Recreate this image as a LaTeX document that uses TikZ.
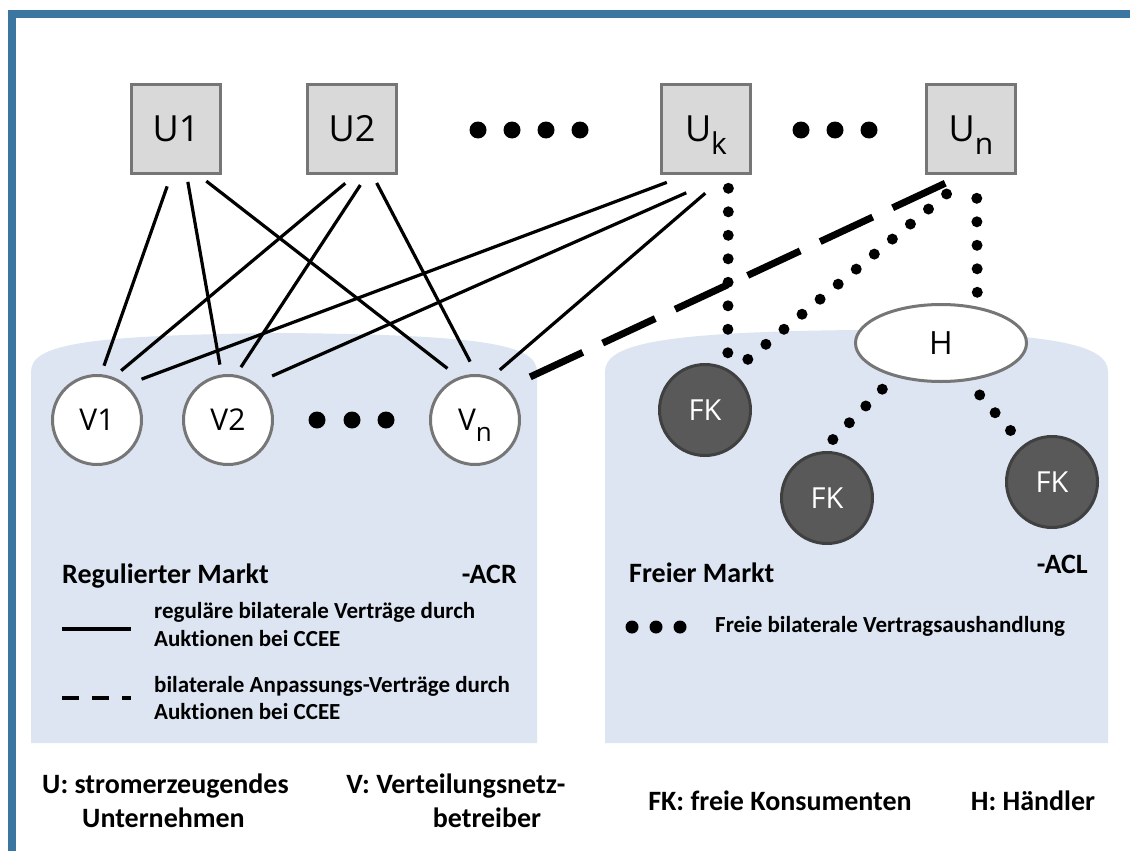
\documentclass[tikz,border=0pt]{standalone}
\usepackage{fontspec}
\setmainfont[Ligatures=NoCommon]{Carlito}
\newfontfamily\lab{Open Sans}
\usetikzlibrary{shapes.geometric}
\definecolor{frameblue}{RGB}{59,118,160}
\definecolor{areablue}{RGB}{220,229,241}
\definecolor{boxfill}{RGB}{217,217,217}
\definecolor{boxdraw}{RGB}{118,118,118}
\definecolor{fkfill}{RGB}{89,89,89}
\definecolor{fkdraw}{RGB}{64,64,64}
\begin{document}
\begin{tikzpicture}[x=1pt,y=-1pt,
  ubox/.style={draw=boxdraw, fill=boxfill, line width=3pt, minimum size=89pt, inner sep=0pt, font=\lab\fontsize{36}{36}\selectfont},
  vnode/.style={circle, draw=boxdraw, fill=white, line width=3pt, minimum size=89pt, inner sep=0pt, font=\lab\fontsize{30}{30}\selectfont},
  fknode/.style={circle, draw=fkdraw, fill=fkfill, line width=3pt, minimum size=91pt, inner sep=0pt, text=white, font=\lab\fontsize{29}{29}\selectfont},
  hnode/.style={ellipse, draw=boxdraw, fill=white, line width=3pt, minimum width=171pt, minimum height=77pt, inner sep=0pt, font=\lab\fontsize{32}{32}\selectfont},
  regular/.style={line width=3.2pt},
  adjust/.style={line width=7pt, dash pattern=on 58pt off 22pt},
  free/.style={line width=11pt, line cap=round, dash pattern=on 0pt off 23.5pt},
  title/.style={inner sep=0pt, font=\fontsize{28}{32}\selectfont\bfseries},
  legtext/.style={inner sep=0pt, anchor=base west, font=\fontsize{23}{27}\selectfont\bfseries},
  keytext/.style={inner sep=0pt, anchor=base, font=\fontsize{28}{32}\selectfont\bfseries},
  bigdot/.style={fill=black}
]
\useasboundingbox (0,0) rectangle (1130,851);
\fill[white] (0,0) rectangle (1130,851);
% frame
\fill[frameblue] (7.5,10) rectangle (1130,18.3);
\fill[frameblue] (7.5,10) rectangle (16,851);
% market areas
\fill[areablue] (31,743) -- (31,372) .. controls (31,345) and (80,335) .. (284,333)
  .. controls (488,335) and (537,345) .. (537,372) -- (537,743) -- cycle;
\fill[areablue] (605,743) -- (605,372) .. controls (605,345) and (655,332) .. (857,330)
  .. controls (1058,332) and (1108,345) .. (1108,372) -- (1108,743) -- cycle;

% producers
\node[ubox] (U1) at (176,129) {U1};
\node[ubox] (U2) at (352,129) {U2};
\node[ubox] (Uk) at (706,129) {U\smash{\raisebox{-13pt}{\fontsize{30}{30}\selectfont k}}};
\node[ubox] (Un) at (971,129) {U\smash{\raisebox{-13pt}{\fontsize{30}{30}\selectfont n}}};
\foreach \x in {478,512,546,580} \fill[bigdot] (\x,130) circle (8.5);
\foreach \x in {801,835,869} \fill[bigdot] (\x,130) circle (8.5);

% distribution operators
\node[vnode] (V1) at (97,420) {V1};
\node[vnode] (V2) at (228,420) {V2};
\node[vnode] (Vn) at (475,420) {V\smash{\raisebox{-11pt}{\fontsize{26}{26}\selectfont n}}};
\foreach \x in {317,352,386} \fill[bigdot] (\x,420) circle (8.5);

% free market
\node[hnode] (H) at (941,343) {H};
\node[fknode] (FK1) at (705,410) {FK};
\node[fknode] (FK2) at (827,498) {FK};
\node[fknode] (FK3) at (1052,482) {FK};

% regular contracts
\draw[regular, shorten <=12pt, shorten >=9pt] (U1.264) -- (V1.85);
\draw[regular, shorten <=7pt, shorten >=10pt] (U1.283) -- (V2.98);
\draw[regular, shorten <=10pt, shorten >=14pt] (U1.296) -- (Vn.111);
\draw[regular, shorten <=13pt, shorten >=10pt] (U2.274) -- (V1.69);
\draw[regular, shorten <=12pt, shorten >=9pt] (U2.288) -- (V2.80);
\draw[regular, shorten <=9pt, shorten >=14pt] (U2.294) -- (Vn.88);
\draw[regular, shorten <=21pt, shorten >=16pt] (Uk.247) -- (V1.50);
\draw[regular, shorten <=44pt, shorten >=18pt] (Uk.294) -- (V2.53);
\draw[regular, shorten <=28pt, shorten >=11pt] (Uk.294) -- (Vn.69);
% adjustment contract
\draw[adjust, shorten <=19.5pt, shorten >=25pt] (Un.260) -- (Vn.45);
% free negotiation
\draw[free, shorten <=13.3pt, shorten >=15pt] (Uk.296) -- (FK1.61);
\draw[free, shorten <=29.7pt, shorten >=18pt] (Un.268) -- (FK1.54);
\draw[free, shorten <=23.3pt, shorten >=13.5pt] (Un.277) -- (H.45);
\draw[free, shorten <=17.4pt, shorten >=16.3pt] (H.216) -- (FK2.97);
\draw[free, shorten <=18.4pt, shorten >=18.5pt] (H.305) -- (FK3.128);

% regulated market texts
\node[title, anchor=base west] (regm) at (62,583) {Regulierter Markt};
\node[title, anchor=base east] (acr) at (517,583) {-ACR};
\draw[line width=4.5pt] (62,629) -- (131,629);
\node[legtext] (l1a) at (154,618) {reguläre bilaterale Verträge durch};
\node[legtext] (l1b) at (154,646) {Auktionen bei CCEE};
\draw[line width=4.5pt, dash pattern=on 17pt off 13pt] (62,698) -- (131,698);
\node[legtext] (l2a) at (154,692) {bilaterale Anpassungs-Verträge durch};
\node[legtext] (l2b) at (154,719) {Auktionen bei CCEE};

% free market texts
\node[title, anchor=base west] (frm) at (629,582) {Freier Markt};
\node[title, anchor=base east] (acl) at (1088,573) {-ACL};
\foreach \x in {632,656,680} \fill[bigdot] (\x,627) circle (6.5);
\node[legtext] (l3) at (715,632) {Freie bilaterale Vertragsaushandlung};

% key
\node[keytext] (k1a) at (165.5,793) {U: stromerzeugendes};
\node[keytext] (k1b) at (163.5,827) {Unternehmen};
\node[keytext] (k2a) at (456,793) {V: Verteilungsnetz-};
\node[keytext] (k2b) at (487,827) {betreiber};
\node[keytext] (k3) at (780,810) {FK: freie Konsumenten};
\node[keytext] (k4) at (1033,810) {H: Händler};
\end{tikzpicture}
\end{document}
